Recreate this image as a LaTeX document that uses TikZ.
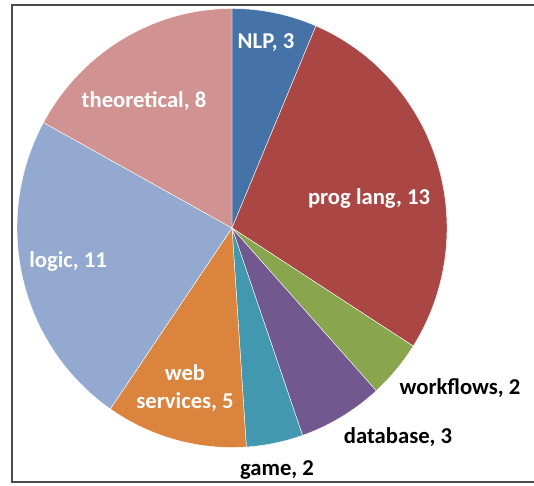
\documentclass[tikz,border=0pt]{standalone}
\usepackage{fontspec}
\setmainfont{Carlito}
\definecolor{nlpcol}{HTML}{4572A7}
\definecolor{progcol}{HTML}{AA4643}
\definecolor{wfcol}{HTML}{89A54E}
\definecolor{dbcol}{HTML}{71588F}
\definecolor{gamecol}{HTML}{4198AF}
\definecolor{webcol}{HTML}{DB843D}
\definecolor{logiccol}{HTML}{93A9CF}
\definecolor{theocol}{HTML}{D19392}
\begin{document}
\begin{tikzpicture}[x=.75pt,y=-.75pt,font=\bfseries\fontsize{17}{21.5}\selectfont,
    inlbl/.style={text=white,align=center,inner sep=0pt},
    outlbl/.style={text=black,inner sep=0pt}]
    \useasboundingbox (0,0) rectangle (534,485);
    \draw[black!70,line width=1.2pt] (545,5) -- (12,5) -- (12,482) -- (545,482);
    \coordinate (c) at (232,228);
    \foreach \s/\e/\col in {-90/-67.02/nlpcol,-67.02/32.55/progcol,32.55/47.87/wfcol,
        47.87/70.85/dbcol,70.85/86.17/gamecol,86.17/124.47/webcol,
        124.47/208.72/logiccol,208.72/270/theocol}
        \filldraw[fill=\col,draw=white,line width=.3pt,shift={(c)}]
            (0,0) -- (\s:215 and 219.5) arc[start angle=\s,end angle=\e,x radius=215,y radius=219.5] -- cycle;
    \node[inlbl] (nlp) at (266,43) {NLP, 3};
    \node[inlbl] (prog) at (369,198) {prog lang, 13};
    \node[inlbl] (theo) at (144,101) {theoretical, 8};
    \node[inlbl] (logic) at (68,261) {logic, 11};
    \node[inlbl] (web) at (185,388) {web\\services, 5};
    \node[outlbl] (wf) at (460,388) {workflows, 2};
    \node[outlbl] (db) at (398,437) {database, 3};
    \node[outlbl] (game) at (277,470) {game, 2};
\end{tikzpicture}
\end{document}
